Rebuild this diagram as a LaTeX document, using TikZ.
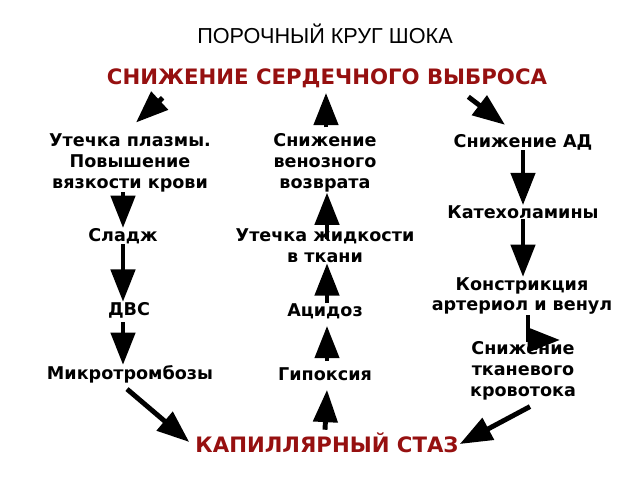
\documentclass[tikz,border=0pt]{standalone}
\usepackage{fontspec}
\setmainfont{DejaVu Sans}
\newfontfamily\titlefont{Liberation Sans}
\usetikzlibrary{arrows.meta,calc}
\definecolor{shockred}{RGB}{150,16,16}

\begin{document}
\begin{tikzpicture}[x=0.025cm, y=-0.025cm,
  every node/.style={font=\bfseries\fontsize{12.5}{14.9}\selectfont, inner sep=0pt, align=center},
  headn/.style={font=\bfseries\fontsize{15.1}{18}\selectfont, text=shockred},
  big/.style={line width=3.5pt, -{Triangle[length=23pt,width=17pt]}}]
\useasboundingbox (0,0) rectangle (640,480);
\node[font=\titlefont\fontsize{15.4}{18}\selectfont] (title) at (325,34) {ПОРОЧНЫЙ КРУГ ШОКА};
\node[headn] (cardiac) at (327,78) {СНИЖЕНИЕ СЕРДЕЧНОГО ВЫБРОСА};
\node[headn] (stasis) at (327,443) {КАПИЛЛЯРНЫЙ СТАЗ};
% left column
\node (utp) at (130,163) {Утечка плазмы.\\Повышение\\вязкости крови};
\node (sl) at (123,236) {Сладж};
\node (dvs) at (129,310) {ДВС};
\node (mikro) at (130,374) {Микротромбозы};
% middle column
\node (snv) at (325,163) {Снижение\\венозного\\возврата};
\node (utzh) at (325,246) {Утечка жидкости\\в ткани};
\node (acid) at (325,311) {Ацидоз};
\node (gip) at (325,374) {Гипоксия};
% right column
\node (snad) at (523,142) {Снижение АД};
\node (kat) at (523,212) {Катехоламины};
\node (konstr) at (522,296) {Констрикция\\артериол и венул};
\node (sntk) at (523,371) {Снижение\\тканевого\\кровотока};
\coordinate (bend) at (560,340);
% arrows
\draw[big] ($(cardiac.south west)+(56,10)$) -- ($(utp.north)+(6,-11)$);
\draw[big] ($(snv.north)+(1,-6)$) -- ($(cardiac.south)+(-1,5)$);
\draw[big] ($(cardiac.south east)+(-79,9)$) -- ($(snad.north)+(-18,-9)$);
\draw[big] (utp.south -| sl) -- (sl.north);
\draw[big] (sl.south) -- (sl.south |- dvs.north);
\draw[big] ($(dvs.south -| sl)+(0,4)$) -- (mikro.north -| sl);
\draw[big] ($(mikro.south)+(-3,6)$) -- ($(stasis.west)+(-6,-1)$);
\draw[big] ($(stasis.north)+(-2,-3)$) -- ($(gip.south -| stasis)+(0,9)$);
\draw[big] ($(gip.north -| stasis)+(0,-6)$) -- ($(acid.south -| stasis)+(0,7)$);
\draw[big] (acid.north -| stasis) -- (utzh.south -| stasis);
\draw[big] ($(utzh.north -| stasis)+(0,10)$) -- (snv.south -| stasis);
\draw[big] (snad.south) -- (kat.north);
\draw[big] (kat.south) -- (konstr.north -| kat);
\draw[big] ($(konstr.south)+(6,0)$) |- (bend);
\draw[big] ($(sntk.south)+(7,6)$) -- ($(stasis.east)+(1,1)$);
\end{tikzpicture}
\end{document}
